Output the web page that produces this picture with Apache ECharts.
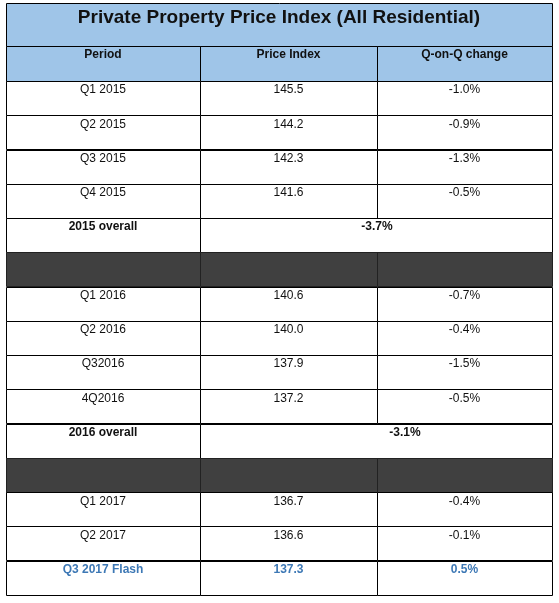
<!DOCTYPE html>
<html><head><meta charset="utf-8">
<script src="https://cdn.jsdelivr.net/npm/echarts@6/dist/echarts.min.js"></script>
<style>html,body{margin:0;padding:0;background:#fff}#c{width:559px;height:603px}</style>
</head><body><div id="c"></div>
<script>
const title = 'Private Property Price Index (All Residential)';
const headers = ['Period', 'Price Index', 'Q-on-Q change'];
const periods2015 = ['Q1 2015', 'Q2 2015', 'Q3 2015', 'Q4 2015'];
const index2015 = [145.5, 144.2, 142.3, 141.6];
const change2015 = [-1.0, -0.9, -1.3, -0.5];
const overall2015 = -3.7;
const periods2016 = ['Q1 2016', 'Q2 2016', 'Q32016', '4Q2016'];
const index2016 = [140.6, 140.0, 137.9, 137.2];
const change2016 = [-0.7, -0.4, -1.5, -0.5];
const overall2016 = -3.1;
const periods2017 = ['Q1 2017', 'Q2 2017', 'Q3 2017 Flash'];
const index2017 = [136.7, 136.6, 137.3];
const change2017 = [-0.4, -0.1, 0.5];

const pct = v => v.toFixed(1) + '%';
const rows = [];
function addYear(p, ix, ch) { p.forEach((s, i) => rows.push({ type: 'q', cells: [s, ix[i].toFixed(1), pct(ch[i])] })); }
addYear(periods2015, index2015, change2015);
rows.push({ type: 'overall', cells: ['2015 overall', pct(overall2015)], off: 0 });
rows.push({ type: 'dark' });
addYear(periods2016, index2016, change2016);
rows.push({ type: 'overall', cells: ['2016 overall', pct(overall2016)], off: 28 });
rows.push({ type: 'dark' });
addYear(periods2017.slice(0, 2), index2017.slice(0, 2), change2017.slice(0, 2));
rows.push({ type: 'flash', cells: [periods2017[2], index2017[2].toFixed(1), pct(change2017[2])] });

const colX = [6, 200, 377, 552];
const topY = 3, titleH = 43, headH = 35, rowH = (595 - 81) / rows.length;

const cells = [];
cells.push({ x0: 6, x1: 552, y0: topY, y1: topY + titleH, fill: '#9fc5e8', text: title, font: 'bold 19px "Liberation Sans", Arial', ty: 15, color: '#111' });
headers.forEach((h, c) => cells.push({ x0: colX[c], x1: colX[c + 1], y0: 46, y1: 81, fill: '#9fc5e8', text: h, font: 'bold 12px "Liberation Sans", Arial', ty: 9, color: '#111' }));
rows.forEach((r, i) => {
  const y0 = 81 + i * rowH, y1 = y0 + rowH;
  if (r.type === 'dark') {
    for (let c = 0; c < 3; c++) cells.push({ x0: colX[c], x1: colX[c + 1], y0, y1, fill: '#404040', stroke: '#222' });
  } else if (r.type === 'overall') {
    cells.push({ x0: colX[0], x1: colX[1], y0, y1, fill: '#fff', text: r.cells[0], font: 'bold 12px "Liberation Sans", Arial', ty: 9, color: '#111' });
    cells.push({ x0: colX[1], x1: colX[3], y0, y1, fill: '#fff', text: r.cells[1], font: 'bold 12px "Liberation Sans", Arial', ty: 9, color: '#111', tx: 377 + r.off });
  } else {
    const flash = r.type === 'flash';
    for (let c = 0; c < 3; c++) cells.push({ x0: colX[c], x1: colX[c + 1], y0, y1, fill: '#fff', text: r.cells[c], font: (flash ? 'bold ' : '') + '12px "Liberation Sans", Arial', ty: 9, color: flash ? '#3d78b5' : '#111' });
  }
});

const chart = echarts.init(document.getElementById('c'), null, { renderer: 'canvas' });
chart.setOption({
  animation: false,
  grid: { left: 0, right: 0, top: 0, bottom: 0 },
  xAxis: { type: 'value', min: 0, max: 559, show: false },
  yAxis: { type: 'value', min: 0, max: 603, inverse: true, show: false },
  series: [{
    type: 'custom',
    data: cells.map((c, i) => [i]),
    renderItem: (params, api) => {
      const c = cells[api.value(0)];
      const p0 = api.coord([c.x0, c.y0]), p1 = api.coord([c.x1, c.y1]);
      const children = [{ type: 'rect', shape: { x: Math.round(p0[0]) + 0.5, y: Math.round(p0[1]) + 0.5, width: Math.round(p1[0] - p0[0]), height: Math.round(p1[1] - p0[1]) }, style: { fill: c.fill, stroke: c.stroke || '#000', lineWidth: 1 } }];
      if (c.text) {
        const tx = c.tx !== undefined ? api.coord([c.tx, 0])[0] : (p0[0] + p1[0]) / 2;
        children.push({ type: 'text', style: { x: tx, y: p0[1] + c.ty, text: c.text, font: c.font, fill: c.color, align: 'center', verticalAlign: 'middle' } });
      }
      return { type: 'group', children };
    }
  }]
});
</script></body></html>
